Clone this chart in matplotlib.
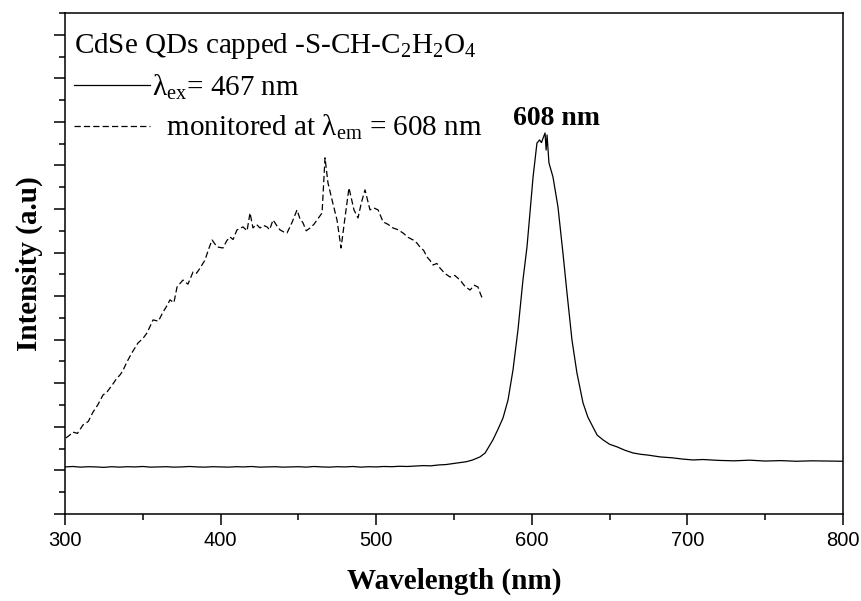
import matplotlib
matplotlib.use("Agg")
import matplotlib.pyplot as plt
from matplotlib.ticker import MultipleLocator, NullFormatter

plt.rcParams['mathtext.fontset'] = 'custom'
plt.rcParams['mathtext.rm'] = 'Liberation Serif'
plt.rcParams['mathtext.it'] = 'Liberation Serif:italic'
plt.rcParams['mathtext.default'] = 'regular'

# Emission spectrum (excited at 467 nm)
em_wl = [300, 305, 310, 315, 320, 325, 330, 335, 340, 345, 350, 355, 360, 365, 370,
         375, 380, 385, 390, 395, 400, 405, 410, 415, 420, 425, 430, 435, 440, 445,
         450, 455, 460, 465, 470, 475, 480, 485, 490, 495, 500, 505, 510, 515, 520,
         525, 530, 535, 540, 545, 550, 554, 558, 562, 566.7, 570, 575, 578, 581.5,
         584.7, 587.9, 591.1, 594.3, 596.9, 598.8, 600.8, 603.3, 605, 606.2, 607.2,
         608.5, 609.2, 609.8, 611, 613.6, 616.8, 620, 622.6, 625.8, 629, 632.9, 636,
         639.3, 642, 645.8, 650, 654.8, 660, 665.1, 670, 675, 682.4, 690, 697, 703.6,
         710, 720, 730, 740, 750, 760, 770, 780, 790, 800]
em_int = [2.16, 2.18, 2.15, 2.17, 2.16, 2.14, 2.17, 2.15, 2.17, 2.16, 2.18, 2.15, 2.16, 2.17, 2.15,
          2.16, 2.18, 2.16, 2.15, 2.17, 2.16, 2.15, 2.17, 2.16, 2.18, 2.15, 2.16, 2.17, 2.15, 2.16,
          2.17, 2.15, 2.18, 2.16, 2.15, 2.17, 2.16, 2.18, 2.15, 2.17, 2.16, 2.18, 2.17, 2.19, 2.18,
          2.20, 2.22, 2.21, 2.25, 2.27, 2.32, 2.36, 2.40, 2.48, 2.62, 2.80, 3.40, 3.85, 4.41,
          5.23, 6.61, 8.45, 10.74, 12.26, 13.82, 15.47, 17.03, 17.17, 17.05, 17.25,
          17.49, 16.71, 17.40, 16.12, 15.47, 14.10, 11.98, 10.15, 7.99, 6.47, 5.10, 4.45,
          3.99, 3.62, 3.40, 3.20, 3.08, 2.92, 2.80, 2.74, 2.70, 2.62, 2.58, 2.52, 2.48,
          2.50, 2.46, 2.44, 2.47, 2.43, 2.45, 2.42, 2.44, 2.43, 2.42]

# Excitation spectrum (monitored at 608 nm)
ex_wl = [300.6, 303, 305.1, 308, 311.6, 315, 318.0, 321, 324.4, 327, 330.8, 333, 335.3, 337,
         339.8, 343, 346.9, 350, 352.7, 356.6, 360, 363.0, 365, 367.5, 370, 372.0, 375.8,
         379, 382.3, 384.5, 386.8, 390.0, 392, 394.5, 397.7, 401.5, 404, 406.0, 408, 410.5,
         414.4, 417, 418.9, 420.8, 423, 425.3, 427.5, 429.8, 431.5, 433.7, 436, 438.2,
         440.5, 442.7, 446, 449.1, 451, 453.0, 455, 457.5, 460, 462.0, 465.2, 467.1, 469,
         471.6, 474.8, 477.4, 480.0, 482.5, 485.7, 488.3, 490.5, 492.8, 496.0, 498.5,
         501.2, 504.4, 507.5, 510.8, 514, 517.2, 520.5, 523.7, 526, 528.1, 530.5, 532.6,
         534.5, 536.5, 539, 541.0, 544, 547.4, 550.5, 553.9, 557, 560.3, 563, 565.4, 567,
         568.6]
ex_int = [3.49, 3.62, 3.76, 3.70, 4.09, 4.25, 4.68, 5.00, 5.46, 5.60, 5.97, 6.20, 6.38, 6.55,
          6.98, 7.40, 7.85, 8.05, 8.31, 8.91, 8.85, 9.27, 9.50, 9.83, 9.70, 10.42, 10.74,
          10.55, 11.11, 11.05, 11.29, 11.66, 12.10, 12.58, 12.26, 12.21, 12.55, 12.72, 12.60,
          13.04, 13.18, 13.00, 13.82, 13.13, 13.30, 13.13, 13.25, 13.18, 13.05, 13.50, 13.25,
          13.04, 12.95, 12.90, 13.40, 13.96, 13.55, 13.36, 13.00, 13.13, 13.30, 13.50, 13.82,
          16.35, 15.20, 14.42, 13.50, 12.21, 13.64, 14.97, 13.96, 13.59, 14.30, 14.88, 13.96,
          14.05, 13.96, 13.41, 13.30, 13.13, 13.05, 12.90, 12.70, 12.58, 12.45, 12.26, 12.10,
          11.80, 11.65, 11.43, 11.50, 11.29, 11.05, 10.88, 10.95, 10.74, 10.45, 10.28,
          10.50, 10.42, 10.10, 9.83]

title_text = r"CdSe QDs capped -S-CH-C$_2$H$_2$O$_4$"
label_em = r"λ$_{ex}$= 467 nm"
label_ex = r"  monitored at λ$_{em}$ = 608 nm"
peak_text = "608 nm"

fig = plt.figure(figsize=(8.62, 6.01), dpi=100)
ax = fig.add_axes([0.0754, 0.1448, 0.9026, 0.8336])

l1, = ax.plot(em_wl, em_int, color='black', lw=0.9, label=label_em)
l2, = ax.plot(ex_wl, ex_int, color='black', lw=0.9, linestyle=(0, (5, 2.5)), label=label_ex)

ax.set_xlim(300, 800)
ax.set_ylim(0, 23)
ax.xaxis.set_major_locator(MultipleLocator(100))
ax.xaxis.set_minor_locator(MultipleLocator(50))
ax.yaxis.set_major_locator(MultipleLocator(2))
ax.yaxis.set_minor_locator(MultipleLocator(1))
ax.yaxis.set_major_formatter(NullFormatter())
ax.tick_params(axis='both', which='major', direction='out', length=8, width=1.1,
               top=False, right=False)
ax.tick_params(axis='both', which='minor', direction='out', length=4, width=1.1,
               top=False, right=False)
ax.tick_params(axis='x', which='major', pad=4)
for lab in ax.get_xticklabels():
    lab.set_fontfamily('Liberation Sans')
    lab.set_fontsize(14.5)
for s in ax.spines.values():
    s.set_linewidth(1.1)

ax.set_xlabel("Wavelength (nm)", family='Liberation Serif', fontweight='bold', fontsize=21, labelpad=13)
ax.set_ylabel("Intensity (a.u)", family='Liberation Serif', fontweight='bold', fontsize=21, labelpad=4)

ax.text(615.6, 17.86, peak_text, family='Liberation Serif', fontweight='bold', fontsize=20,
        ha='center', va='baseline')

leg = ax.legend(handles=[l1, l2], title=title_text, loc='upper left', frameon=False,
                bbox_to_anchor=(0.0, 0.982),
                prop={'family': 'Liberation Serif', 'size': 21},
                title_fontproperties={'family': 'Liberation Serif', 'size': 21},
                handlelength=2.6, handletextpad=0.1, labelspacing=0.4,
                borderaxespad=0.1, borderpad=0.2, alignment='left')

fig.savefig("out.png", dpi=100)
